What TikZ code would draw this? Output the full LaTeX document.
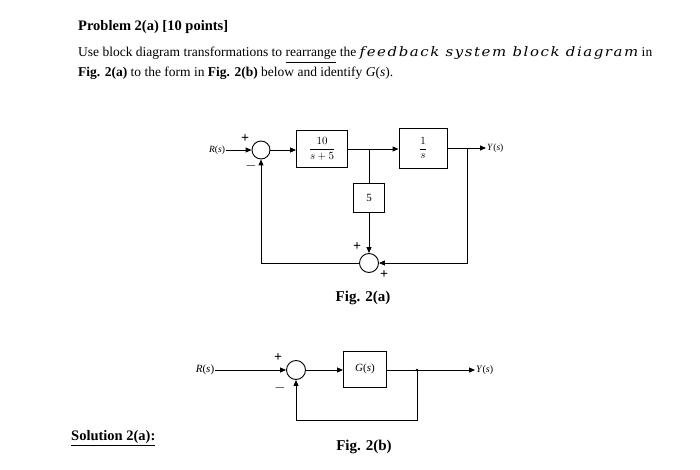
\documentclass[tikz,border=0pt]{standalone}
\usepackage{amsmath}
\usepackage{fontspec}
\setmainfont{Liberation Serif}
\newfontfamily\wideit[FakeStretch=1.15, LetterSpace=12, UprightFont=* Italic]{DejaVu Serif}
\usetikzlibrary{arrows.meta}
\begin{document}
\begin{tikzpicture}[x=1pt, y=-1pt,
    myblock/.style={rectangle, draw, line width=0.9pt, inner sep=1pt, font=\fontsize{11}{12}\selectfont},
    mysum/.style={circle, draw, line width=0.9pt, minimum size=18pt, inner sep=0pt},
    myarrow/.style={-{Triangle[length=6pt, width=5pt]}, line width=0.9pt},
    myline/.style={line width=0.9pt},
    mysign/.style={font=\fontsize{14}{15}\selectfont\bfseries, inner sep=0pt},
    mylabel/.style={font=\fontsize{9.5}{10}\selectfont, inner sep=1pt},
    mytext/.style={anchor=base west, inner sep=0pt, font=\fontsize{13.5}{16}\selectfont},
]
\useasboundingbox (0,0) rectangle (700,470);

% statement
\node[mytext, font=\fontsize{14.5}{16}\selectfont\bfseries] (title) at (78,31) {Problem 2(a) [10 points]};
\node[mytext] (line1) at (78,57) {Use block diagram transformations to \underline{rearrange} the {\wideit\fontsize{13}{14}\selectfont feedback system block diagram} in};
\node[mytext] (line2) at (78,77) {\textbf{Fig. 2(a)} to the form in \textbf{Fig. 2(b)} below and identify \textit{G}(\textit{s}).};

% Fig. 2(a)
\node[mylabel] (ra) at (217,150) {\textit{R}(\textit{s})};
\node[mysum] (s1) at (261,150) {};
\node[myblock, minimum width=51pt, minimum height=37pt] (g1) at (322,149) {$\dfrac{10}{s+5}$};
\node[myblock, minimum width=48pt, minimum height=40pt] (g2) at (423,148) {$\dfrac{1}{s}$};
\node[myblock, minimum width=31pt, minimum height=29pt] (g3) at (369,198) {5};
\node[mysum, minimum size=19pt] (s2) at (369,263) {};
\node[mylabel, anchor=west] (ya) at (486,148) {\textit{Y}(\textit{s})};
\coordinate (b1) at (369,149);
\coordinate (b2) at (467,148);

\draw[myarrow] (ra) -- (s1);
\draw[myarrow] (s1) -- (s1 -| g1.west);
\draw[myarrow] (g1.east |- b1) -- (b1 -| g2.west);
\draw[myarrow] (g2.east |- b2) -- (ya);
\draw[myline] (b1) -- (g3);
\draw[myarrow] (g3) -- (s2);
\draw[myarrow] (b2) |- (s2);
\draw[myarrow] (s2) -| (s1);

\node[mysign] at (245,139) {+};
\node[mysign] at (251,166) {$-$};
\node[mysign] at (357,247) {+};
\node[mysign] at (384,275) {+};
\node[font=\fontsize{15}{17}\selectfont\bfseries] (figa) at (363,298) {Fig. 2(a)};

% Fig. 2(b)
\node[mylabel, font=\fontsize{11}{12}\selectfont] (rb) at (205,370) {\textit{R}(\textit{s})};
\node[mysum, minimum size=19pt] (s3) at (296,370) {};
\node[myblock, minimum width=43pt, minimum height=36pt, font=\fontsize{11}{12}\selectfont] (gb) at (365,369) {\textit{G}(\textit{s})};
\node[mylabel, anchor=west, font=\fontsize{10}{11}\selectfont] (yb) at (475,370) {\textit{Y}(\textit{s})};
\coordinate (b3) at (417,370);

\draw[myarrow] (rb) -- (s3);
\draw[myarrow] (s3) -- (gb.west |- s3);
\draw[myarrow] (gb.east |- s3) -- (yb);
\draw[myarrow] (b3) -- (417,420) -| (s3);
\fill (b3) circle (1.3pt);

\node[mysign] at (278,358) {+};
\node[mysign] at (280,388) {$-$};
\node[font=\fontsize{15}{17}\selectfont\bfseries] (figb) at (364,447) {Fig. 2(b)};

\node[anchor=base west, inner sep=0pt, font=\fontsize{14.5}{16}\selectfont\bfseries] (sol) at (71,440) {\underline{Solution 2(a):}};
\end{tikzpicture}
\end{document}
